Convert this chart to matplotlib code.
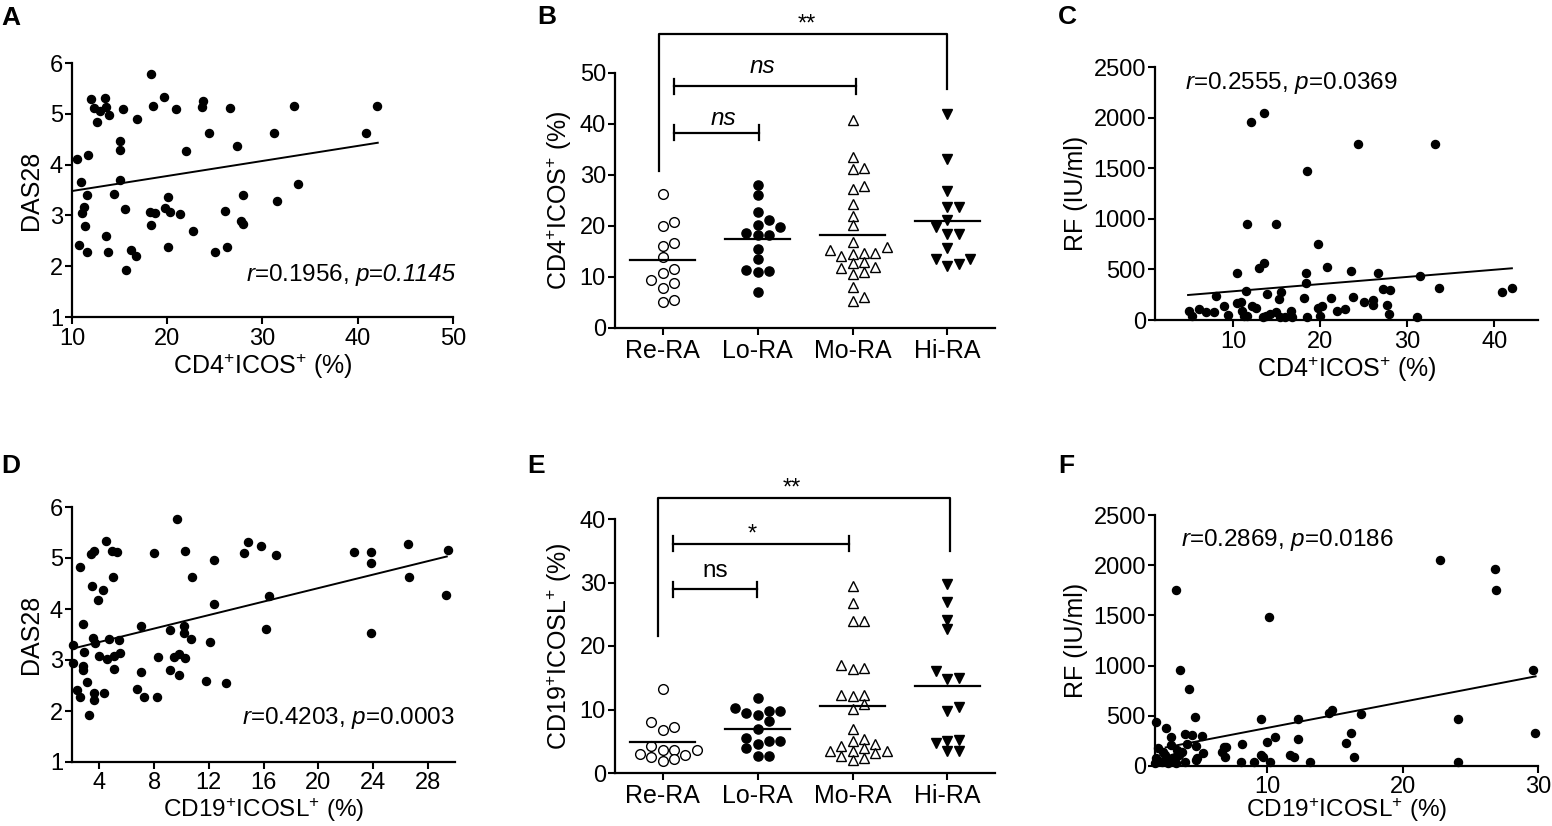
import numpy as np
import matplotlib
matplotlib.use('Agg')
from matplotlib import pyplot as plt

plt.rcParams['font.family'] = ['Liberation Sans', 'DejaVu Sans']
plt.rcParams['mathtext.fontset'] = 'custom'
plt.rcParams['mathtext.rm'] = 'Liberation Sans'
plt.rcParams['mathtext.it'] = 'Liberation Sans:italic'
plt.rcParams['mathtext.bf'] = 'Liberation Sans:bold'

# ---------------- data ----------------
# A: DAS28 vs CD4+ICOS+ (%)
a_x = [10.5, 10.7, 10.9, 11.0, 11.3, 11.4, 11.6, 11.6, 11.7, 12.0, 12.3, 12.6, 12.9,
       13.5, 13.6, 13.6, 13.8, 13.9, 14.4, 15.0, 15.0, 15.0, 15.4, 15.6, 15.7, 16.2,
       16.7, 16.8, 18.3, 18.2, 18.3, 18.7, 18.5, 19.7, 19.8, 20.1, 20.1, 20.3, 20.9,
       21.3, 22.0, 22.7, 23.6, 23.8, 24.4, 25.0, 26.1, 26.3, 26.6, 27.3, 27.7, 28.0,
       28.0, 31.2, 31.5, 33.3, 33.7, 40.9, 42.0]
a_y = [4.12, 2.42, 3.66, 3.05, 3.16, 2.79, 3.41, 2.28, 4.18, 5.29, 5.12, 4.83, 5.05,
       5.31, 5.14, 2.60, 2.28, 4.97, 3.43, 4.47, 4.29, 3.70, 5.09, 3.13, 1.92, 2.32,
       2.21, 4.90, 5.78, 3.07, 2.81, 3.04, 5.15, 5.33, 3.14, 3.36, 2.37, 3.07, 5.10,
       3.02, 4.27, 2.69, 5.14, 5.25, 4.63, 2.27, 3.09, 2.37, 5.12, 4.37, 2.88, 3.41,
       2.83, 4.63, 3.28, 5.15, 3.61, 4.63, 5.15]
a_fit_x = [10.0, 42.1]
a_fit_y = [3.48, 4.43]

# B: CD4+ICOS+ (%) by disease activity
groups = ['Re-RA', 'Lo-RA', 'Mo-RA', 'Hi-RA']
b_re = [26.2, 20.7, 20.0, 16.1, 16.7, 13.9, 11.6, 10.7, 8.8, 9.5, 7.9, 5.0, 5.4]
b_lo = [28.0, 26.0, 22.7, 19.8, 21.2, 20.2, 18.2, 18.2, 18.6, 15.5, 13.5, 11.2, 10.9,
        11.3, 7.0]
b_mo = [40.8, 33.6, 31.1, 31.4, 27.9, 27.3, 24.3, 22.0, 20.2, 16.9, 15.8, 15.2, 14.8,
        14.1, 14.5, 14.8, 12.7, 12.9, 11.7, 11.9, 10.9, 10.6, 8.1, 6.1, 5.2]
b_hi = [42.0, 33.2, 26.8, 23.7, 23.7, 21.1, 19.8, 18.5, 18.5, 15.6, 13.6, 13.6, 12.2, 12.5]

# C: RF vs CD4+ICOS+ (%)
c_x = [12.0, 13.5, 24.3, 33.2, 18.5, 11.6, 14.9, 19.7, 10.4, 12.9, 13.5, 20.8, 23.5,
       26.6, 18.3, 18.3, 31.5, 33.6, 40.9, 42.0, 27.2, 28.0, 11.5, 15.5, 8.0, 13.9,
       23.7, 21.2, 18.1, 15.3, 25.0, 26.1, 26.1, 27.6, 10.4, 10.9, 8.9, 12.2, 12.6,
       19.7, 20.2, 22.8, 21.9, 6.0, 6.9, 7.8, 4.9, 5.3, 11.0, 16.6, 14.9, 14.2, 13.7,
       9.4, 11.2, 11.6, 13.4, 15.4, 15.9, 16.7, 18.5, 19.9, 27.9, 31.1]
c_y = [1952, 2045, 1741, 1741, 1474, 946, 946, 755, 468, 511, 561, 528, 488,
       468, 468, 369, 435, 320, 280, 320, 307, 297, 290, 280, 237, 257,
       231, 221, 221, 208, 178, 198, 148, 145, 165, 181, 139, 139, 119,
       119, 139, 109, 89, 109, 82, 79, 89, 40, 86, 86, 76, 56, 40,
       46, 40, 40, 33, 33, 33, 33, 33, 40, 59, 26]
c_fit_x = [4.8, 42.0]
c_fit_y = [247, 511]

# D: DAS28 vs CD19+ICOSL+ (%)
d_x = [2.04, 2.04, 2.38, 2.55, 2.60, 2.84, 2.91, 2.84, 2.84, 3.13, 3.25, 3.37, 3.61,
       3.44, 3.57, 3.69, 3.61, 3.61, 3.88, 4.00, 4.24, 4.34, 4.48, 4.53, 4.72, 4.89,
       5.01, 5.06, 5.06, 5.30, 5.42, 5.54, 6.78, 7.02, 7.07, 7.26, 8.03, 8.20, 8.32,
       9.19, 9.19, 9.48, 9.65, 9.79, 9.79, 10.16, 10.16, 10.28, 10.28, 10.69, 10.74,
       11.77, 12.06, 12.38, 12.38, 13.27, 14.60, 14.84, 15.83, 16.17, 16.43, 16.92,
       22.59, 23.89, 23.89, 23.89, 26.55, 26.67, 29.33, 29.47]
d_y = [3.29, 2.94, 2.42, 2.27, 4.82, 3.70, 3.16, 2.88, 2.81, 2.57, 1.92, 5.08, 5.14,
       4.46, 3.44, 3.34, 2.36, 2.21, 4.18, 3.07, 4.37, 2.36, 5.33, 3.01, 3.41, 5.14,
       4.63, 2.82, 3.08, 5.11, 3.40, 3.14, 2.44, 3.67, 2.76, 2.27, 5.10, 2.27, 3.06,
       3.59, 2.80, 3.05, 5.77, 3.12, 2.70, 3.66, 3.52, 3.04, 5.14, 3.42, 4.63,
       2.59, 3.35, 4.97, 4.10, 2.55, 5.10, 5.31, 5.24, 3.60, 4.26, 5.05,
       5.11, 5.11, 4.90, 3.52, 5.28, 4.63, 4.27, 5.15]
d_fit_x = [2.0, 29.4]
d_fit_y = [3.22, 5.03]

# E: CD19+ICOSL+ (%) by disease activity
e_re = [13.3, 8.1, 6.7, 7.2, 4.3, 3.0, 2.5, 3.6, 3.6, 3.6, 1.9, 2.2, 2.8]
e_lo = [11.8, 9.8, 9.4, 9.2, 9.8, 10.3, 8.2, 7.0, 5.0, 5.0, 5.5, 3.9, 4.5, 2.7, 2.7]
e_mo = [29.5, 26.8, 24.0, 24.0, 16.5, 16.3, 17.0, 12.3, 12.2, 12.3, 10.8, 10.1, 6.9,
        5.0, 5.4, 4.6, 4.2, 3.9, 3.4, 3.5, 3.5, 3.1, 2.6, 2.0, 2.4]
e_hi = [29.8, 26.9, 24.1, 22.7, 16.0, 15.0, 14.8, 10.4, 9.7, 4.7, 5.2, 5.0, 3.5, 3.5]

# F: RF vs CD19+ICOSL+ (%)
f_x = [22.77, 26.80, 26.88, 3.25, 10.13, 3.58, 29.65, 4.21, 1.74, 2.49, 4.66, 9.50,
       12.27, 14.53, 14.79, 16.93, 24.06, 29.77, 16.17, 15.79, 16.42, 12.27, 10.58,
       10.00, 8.11, 11.64, 11.96, 9.50, 9.70, 8.99, 8.04, 10.20, 13.15, 24.06, 6.80,
       6.98, 6.68, 6.85, 2.90, 2.87, 3.32, 3.70, 3.90, 4.41, 4.08, 4.71, 5.14, 5.21,
       4.84, 4.71, 2.95, 3.88, 1.94, 2.27, 1.81, 1.69, 2.19, 2.44, 2.69, 3.25, 3.15,
       3.45]
f_y = [2050, 1961, 1753, 1753, 1482, 952, 952, 764, 440, 374, 489, 473,
       473, 529, 562, 516, 473, 324, 324, 231, 93, 265, 284,
       241, 218, 109, 93, 109, 93, 36, 36, 36, 43, 43, 192,
       185, 142, 86, 284, 208, 159, 142, 317, 307, 218, 198, 298, 126,
       76, 60, 76, 36, 175, 142, 76, 26, 43, 109, 33, 33, 93,
       109]
f_fit_x = [2.49, 29.82]
f_fit_y = [185, 893]

# ---------------- figure ----------------
W, H = 1552, 826
fig = plt.figure(figsize=(W / 100, H / 100), dpi=100)

TICK = 17
LAB = 18
NOTE = 17.5


def add_ax(l, t, r, b):
    return fig.add_axes([l / W, 1 - b / H, (r - l) / W, (b - t) / H])


def style(ax, cat=False, xpad=3):
    for s in ['top', 'right']:
        ax.spines[s].set_visible(False)
    for s in ['left', 'bottom']:
        ax.spines[s].set_linewidth(1.6)
    ax.tick_params(direction='out', length=5, width=1.5, labelsize=TICK)
    ax.tick_params(axis='y', pad=1.5)
    ax.tick_params(axis='x', pad=xpad, labelsize=18 if cat else TICK)


def bottom_xlabel(ax, text, t, b):
    # pin the label just above the bottom edge of the figure
    ax.set_xlabel(text, fontsize=17.5, va='bottom')
    ax.xaxis.set_label_coords(0.5, -(H - 2 - b) / (b - t))


def swarm(vals, thr, step=0.12):
    vals = np.asarray(vals)
    offs = np.zeros(len(vals))
    placed = []
    for i in np.argsort(vals):
        for k in [0, 1, -1, 2, -2, 3, -3]:
            if all(abs(vals[i] - v) >= thr for v, kk in placed if kk == k):
                break
        placed.append((vals[i], k))
        offs[i] = k * step
    return offs


def scatter_panel(ax, x, y, fx, fy):
    ax.plot(x, y, 'o', color='k', ms=5.8, clip_on=False, zorder=3)
    ax.plot(fx, fy, '-', color='k', lw=1.4)


def dot_panel(ax, data, thr):
    mk = [dict(marker='o', mfc='white', mec='k', mew=1.0, ms=7.0),
          dict(marker='o', mfc='k', mec='k', ms=6.6),
          dict(marker='^', mfc='white', mec='k', mew=1.0, ms=6.8),
          dict(marker='v', mfc='k', mec='k', ms=6.8)]
    for i, vals in enumerate(data):
        offs = swarm(vals, thr)
        ax.plot(i + offs, vals, ls='none', clip_on=False, zorder=3, **mk[i])
        m = np.mean(vals)
        ax.plot([i - 0.34, i + 0.34], [m, m], color='k', lw=1.6, zorder=4)
    ax.set_xlim(-0.5, 3.5)
    ax.set_xticks(range(4))
    ax.set_xticklabels(groups)


def bracket(ax, x0, x1, y, cap):
    ax.plot([x0, x1], [y, y], color='k', lw=1.6, clip_on=False)
    for xx in (x0, x1):
        ax.plot([xx, xx], [y - cap, y + cap], color='k', lw=1.6, clip_on=False)


def big_bracket(ax, x0, x1, y, y0, y1):
    ax.plot([x0, x0, x1, x1], [y0, y, y, y1], color='k', lw=1.6, clip_on=False)


cd4 = r'CD4$^{+}$ICOS$^{+}$ (%)'
cd19 = r'CD19$^{+}$ICOSL$^{+}$ (%)'

# A
ax = add_ax(72, 63, 453, 317)
scatter_panel(ax, a_x, a_y, a_fit_x, a_fit_y)
ax.set_xlim(10, 50)
ax.set_ylim(1, 6)
ax.set_xticks([10, 20, 30, 40, 50])
ax.set_yticks([1, 2, 3, 4, 5, 6])
style(ax)
ax.set_xlabel(cd4, fontsize=LAB, labelpad=1)
ax.set_ylabel('DAS28', fontsize=LAB, labelpad=5)
pa = ax.text(50.3, 1.62, 'p=0.1145', ha='right', va='bottom', fontsize=NOTE,
             style='italic')
ax.annotate(r'$\mathit{r}$=0.1956,', xy=(0, 0), xycoords=pa, xytext=(-5, 0),
            textcoords='offset points', ha='right', va='bottom', fontsize=NOTE)

# B
ax = add_ax(615, 73, 995, 328)
dot_panel(ax, [b_re, b_lo, b_mo, b_hi], 1.8)
ax.set_ylim(0, 50)
ax.set_yticks(range(0, 51, 10))
style(ax, cat=True)
ax.set_ylabel(cd4, fontsize=LAB, labelpad=4)
big_bracket(ax, -0.04, 3.0, 57.7, 30.8, 46.9)
ax.text(1.52, 58.3, '**', ha='center', va='baseline', fontsize=17)
bracket(ax, 0.12, 2.04, 47.4, 1.5)
ax.text(1.05, 50.0, 'ns', ha='center', va='baseline', fontsize=NOTE, style='italic')
bracket(ax, 0.12, 1.02, 38.3, 1.5)
ax.text(0.64, 39.8, 'ns', ha='center', va='baseline', fontsize=NOTE, style='italic')

# C
ax = add_ax(1155, 67, 1538, 320)
scatter_panel(ax, c_x, c_y, c_fit_x, c_fit_y)
ax.set_xlim(1, 45)
ax.set_ylim(0, 2500)
ax.set_xticks([10, 20, 30, 40])
ax.set_yticks(range(0, 2501, 500))
style(ax)
ax.set_xlabel(cd4, fontsize=LAB, labelpad=1)
ax.set_ylabel('RF (IU/ml)', fontsize=LAB, labelpad=4)
ax.text(4.5, 2340, r'$\mathit{r}$=0.2555, $\mathit{p}$=0.0369',
        ha='left', va='center', fontsize=NOTE)

# D
ax = add_ax(72, 507, 455, 762)
scatter_panel(ax, d_x, d_y, d_fit_x, d_fit_y)
ax.set_xlim(2, 30)
ax.set_ylim(1, 6)
ax.set_xticks(range(4, 29, 4))
ax.set_yticks([1, 2, 3, 4, 5, 6])
style(ax, xpad=2)
bottom_xlabel(ax, cd19, 507, 762)
ax.set_ylabel('DAS28', fontsize=LAB, labelpad=5)
ax.text(30, 1.87, r'$\mathit{r}$=0.4203, $\mathit{p}$=0.0003',
        ha='right', va='center', fontsize=NOTE)

# E
ax = add_ax(615, 519, 995, 773)
dot_panel(ax, [e_re, e_lo, e_mo, e_hi], 1.4)
ax.set_ylim(0, 40)
ax.set_yticks(range(0, 41, 10))
style(ax, cat=True)
ax.set_ylabel(cd19, fontsize=LAB, labelpad=4)
big_bracket(ax, -0.05, 3.03, 43.3, 21.5, 34.9)
ax.text(1.36, 43.8, '**', ha='center', va='baseline', fontsize=17)
bracket(ax, 0.115, 1.96, 36.1, 1.2)
ax.text(0.94, 36.6, '*', ha='center', va='baseline', fontsize=17)
bracket(ax, 0.115, 0.99, 28.9, 1.2)
ax.text(0.55, 30.9, 'ns', ha='center', va='baseline', fontsize=NOTE)

# F
ax = add_ax(1155, 515, 1538, 766)
scatter_panel(ax, f_x, f_y, f_fit_x, f_fit_y)
ax.set_xlim(1.7, 30)
ax.set_ylim(0, 2500)
ax.set_xticks([10, 20, 30])
ax.set_yticks(range(0, 2501, 500))
style(ax, xpad=2)
bottom_xlabel(ax, cd19, 515, 766)
ax.set_ylabel('RF (IU/ml)', fontsize=LAB, labelpad=4)
ax.text(3.6, 2250, r'$\mathit{r}$=0.2869, $\mathit{p}$=0.0186',
        ha='left', va='center', fontsize=NOTE)

# panel letters
for letter, x, y in [('A', 1, 25), ('B', 537, 24), ('C', 1058, 24),
                     ('D', 1, 473), ('E', 527, 473), ('F', 1058, 473)]:
    fig.text(x / W, 1 - y / H, letter, ha='left', va='baseline',
             fontsize=19, fontweight='bold')

fig.savefig('out.png', dpi=100)
